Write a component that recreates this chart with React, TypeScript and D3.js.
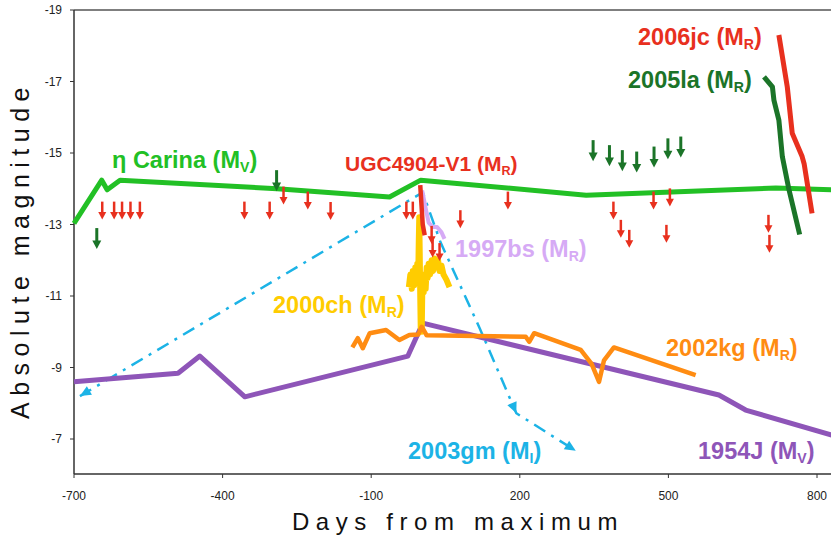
import React from 'react';
import * as d3 from 'd3';

type Pt = [number, number];

const W = 831;
const H = 536;

const xTicks = [-700, -400, -100, 200, 500, 800];
const yTicks = [-19, -17, -15, -13, -11, -9, -7];

// light curves: [days from maximum, absolute magnitude]
const etaCarina: Pt[] = [
  [-700, -13.03], [-644, -14.24], [-633, -13.97], [-607, -14.24], [-290, -14.0],
  [-63, -13.77], [0, -14.24], [334, -13.82], [717, -14.02], [830, -13.97],
];
const sn1954J: Pt[] = [
  [-700, -8.6], [-490, -8.84], [-446, -9.32], [-355, -8.18], [-26, -9.32],
  [4, -10.24], [602, -8.23], [656, -7.81], [830, -7.11],
];
const sn2002kg: Pt[] = [
  [-138, -9.56], [-127, -9.82], [-117, -9.54], [-103, -9.96], [-70, -10.05],
  [-43, -9.77], [-23, -9.91], [-5, -9.92], [2, -10.14], [12, -9.9],
  [212, -9.86], [219, -9.72], [229, -9.96], [253, -9.84], [323, -9.49],
  [345, -9.1], [360, -8.6], [370, -9.2], [390, -9.56], [555, -8.79],
];
const sn2003gm: Pt[] = [
  [-688, -8.2], [4, -13.9], [40, -12.5], [119, -10.1], [193, -7.72], [313, -6.67],
];
const sn2000ch: Pt[] = [
  [-24, -11.25], [-21, -11.6], [-18, -11.2], [-16, -11.7], [-13, -11.3], [-11, -11.8],
  [-9, -11.4], [-7, -11.9], [-5, -11.6], [-4, -12.5], [-3, -13.2], [-2, -12.2],
  [-1, -11.0], [0, -10.1], [1, -10.7], [2, -10.0], [3, -11.0], [4, -11.6],
  [6, -11.1], [8, -11.6], [10, -11.2], [12, -11.8], [14, -11.5], [16, -11.9],
  [19, -11.6], [22, -12.0], [25, -11.7], [28, -12.05], [31, -11.8], [35, -12.0],
  [38, -11.7], [42, -11.85], [46, -11.6], [52, -11.45], [58, -11.25],
];
const sn1997bs: Pt[] = [
  [3, -13.95], [10, -13.45], [16, -13.05], [24, -12.93], [33, -12.93], [42, -12.78], [48, -12.6],
];
const ugc4904: Pt[] = [[-1, -14.1], [4, -13.0], [8, -12.7]];
const sn2005la: Pt[] = [
  [693, -17.13], [710, -16.85], [713, -16.48], [723, -15.92], [730, -14.9],
  [743, -14.0], [765, -12.72],
];
const sn2006jc: Pt[] = [
  [723, -18.3], [740, -16.85], [750, -15.55], [770, -14.9], [774, -14.7], [790, -13.31],
];

// upper limits (arrow top = limit)
const ugcLimits: Pt[] = [
  [-643, -13.64], [-619, -13.64], [-603, -13.64], [-586, -13.64], [-567, -13.64],
  [-356, -13.64], [-305, -13.64], [-277, -14.06], [-228, -13.92], [-182, -13.63],
  [-29, -13.64], [-16, -13.64], [22, -12.96], [24, -12.58], [38, -12.48],
  [80, -13.4], [176, -13.92], [389, -13.64], [404, -13.13], [421, -12.85],
  [470, -13.92], [503, -14.01], [496, -12.99], [702, -13.27], [704, -12.71],
];
const la2005Limits: Pt[] = [
  [-654, -12.9], [-291, -14.52], [348, -15.36], [381, -15.22], [407, -15.08],
  [436, -15.04], [471, -15.18], [499, -15.41], [525, -15.46],
];

const C = {
  eta: '#22c025',
  red: '#e8301e',
  dkgreen: '#1b7428',
  purple: '#8e55b8',
  orange: '#ff8c12',
  cyan: '#1cb3e6',
  yellow: '#ffcc00',
  lavender: '#d6aaf5',
};

const FONT = '"Liberation Sans", Arial, Helvetica, sans-serif';

const x = d3.scaleLinear().domain([-700, 800]).range([74, 817]);
const y = d3.scaleLinear().domain([-19, -7]).range([10, 439]);
const line = d3.line<Pt>().x(d => x(d[0])).y(d => y(d[1]));

function Arrow({ d, color, len, shaft, head }: { d: Pt; color: string; len: number; shaft: number; head: number }) {
  const px = x(d[0]);
  const py = y(d[1]);
  const hl = head * 0.95;
  return (
    <g>
      <line x1={px} y1={py} x2={px} y2={py + len - hl + 1} stroke={color} strokeWidth={shaft} />
      <path d={`M${px - head / 2},${py + len - hl}L${px + head / 2},${py + len - hl}L${px},${py + len}Z`} fill={color} />
    </g>
  );
}

function Tri({ from, to, color }: { from: Pt; to: Pt; color: string }) {
  const x0 = x(from[0]), y0 = y(from[1]);
  const x1 = x(to[0]), y1 = y(to[1]);
  const a = (Math.atan2(y1 - y0, x1 - x0) * 180) / Math.PI;
  return (
    <path d="M0,0L-11,-5L-11,5Z" fill={color} transform={`translate(${x1},${y1}) rotate(${a})`} />
  );
}

function Label({ px, py, color, name, sub, size = 23.5 }: { px: number; py: number; color: string; name: string; sub: string; size?: number }) {
  return (
    <text x={px} y={py} fill={color} fontFamily={FONT} fontWeight="bold" fontSize={size}>
      {name + ' (M'}
      <tspan fontSize={size * 0.6} dy={4}>{sub}</tspan>
      <tspan dy={-4}>)</tspan>
    </text>
  );
}

export default function App() {
  const xEnd = W;
  return (
    <svg width={W} height={H} style={{ position: 'absolute', left: 0, top: 0, background: '#fff' }} fontFamily={FONT}>
      <rect width={W} height={H} fill="#fff" />
      {/* frame */}
      <line x1={74} x2={xEnd} y1={10} y2={10} stroke="#555" strokeWidth={1.5} />
      <line x1={74} x2={74} y1={10} y2={474} stroke="#333" strokeWidth={1.5} />
      <line x1={74} x2={xEnd} y1={474} y2={474} stroke="#333" strokeWidth={1.5} />
      {yTicks.map(t => (
        <g key={t}>
          <line x1={70} x2={74} y1={y(t)} y2={y(t)} stroke="#333" strokeWidth={1} />
          <text x={62} y={y(t) + 4} textAnchor="end" fontSize={12} fill="#222">{t}</text>
        </g>
      ))}
      {xTicks.map(t => (
        <g key={t}>
          <line x1={x(t)} x2={x(t)} y1={474} y2={478} stroke="#333" strokeWidth={1} />
          <text x={x(t)} y={500} textAnchor="middle" fontSize={12} fill="#222">{t}</text>
        </g>
      ))}
      <text transform="translate(29,250) rotate(-90)" textAnchor="middle" fontSize={25} letterSpacing={6.5} fill="#111">
        Absolute magnitude
      </text>
      <text x={458} y={530} textAnchor="middle" fontSize={24} letterSpacing={6.6} fill="#111">
        Days from maximum
      </text>

      {/* curves */}
      <path d={line(sn2003gm) ?? ''} fill="none" stroke={C.cyan} strokeWidth={2.5} strokeDasharray="13,7,3,7" />
      <Tri from={sn2003gm[1]} to={sn2003gm[0]} color={C.cyan} />
      <Tri from={sn2003gm[3]} to={sn2003gm[4]} color={C.cyan} />
      <Tri from={sn2003gm[4]} to={sn2003gm[5]} color={C.cyan} />
      <path d={line(sn1954J) ?? ''} fill="none" stroke={C.purple} strokeWidth={5} strokeLinejoin="round" />
      <path d={line(sn2000ch) ?? ''} fill="none" stroke={C.yellow} strokeWidth={6} strokeLinejoin="round" />
      <path d={line(sn2002kg) ?? ''} fill="none" stroke={C.orange} strokeWidth={4.5} strokeLinejoin="round" />
      <path d={line(sn1997bs) ?? ''} fill="none" stroke={C.lavender} strokeWidth={4} strokeLinejoin="round" />
      <path d={line(etaCarina) ?? ''} fill="none" stroke={C.eta} strokeWidth={5} strokeLinejoin="round" />
      <path d={line(ugc4904) ?? ''} fill="none" stroke={C.red} strokeWidth={4.5} />
      {ugcLimits.map((d, i) => (
        <Arrow key={'r' + i} d={d} color={C.red} len={18} shaft={2.5} head={8} />
      ))}
      {la2005Limits.map((d, i) => (
        <Arrow key={'g' + i} d={d} color={C.dkgreen} len={21} shaft={3} head={9} />
      ))}
      <path d={line(sn2005la) ?? ''} fill="none" stroke={C.dkgreen} strokeWidth={5} strokeLinejoin="round" />
      <path d={line(sn2006jc) ?? ''} fill="none" stroke={C.red} strokeWidth={5} strokeLinejoin="round" />

      {/* labels */}
      <Label px={112} py={168} color={C.eta} name="η Carina" sub="V" />
      <Label px={345} py={171} color={C.red} name="UGC4904-V1" sub="R" size={21} />
      <Label px={455} py={257} color={C.lavender} name="1997bs" sub="R" />
      <Label px={273} py={313} color={C.yellow} name="2000ch" sub="R" />
      <Label px={666} py={356} color={C.orange} name="2002kg" sub="R" />
      <Label px={408} py={459} color={C.cyan} name="2003gm" sub="I" />
      <Label px={698} py={459} color={C.purple} name="1954J" sub="V" />
      <Label px={628} py={88} color={C.dkgreen} name="2005la" sub="R" />
      <Label px={638} py={45} color={C.red} name="2006jc" sub="R" />
    </svg>
  );
}
